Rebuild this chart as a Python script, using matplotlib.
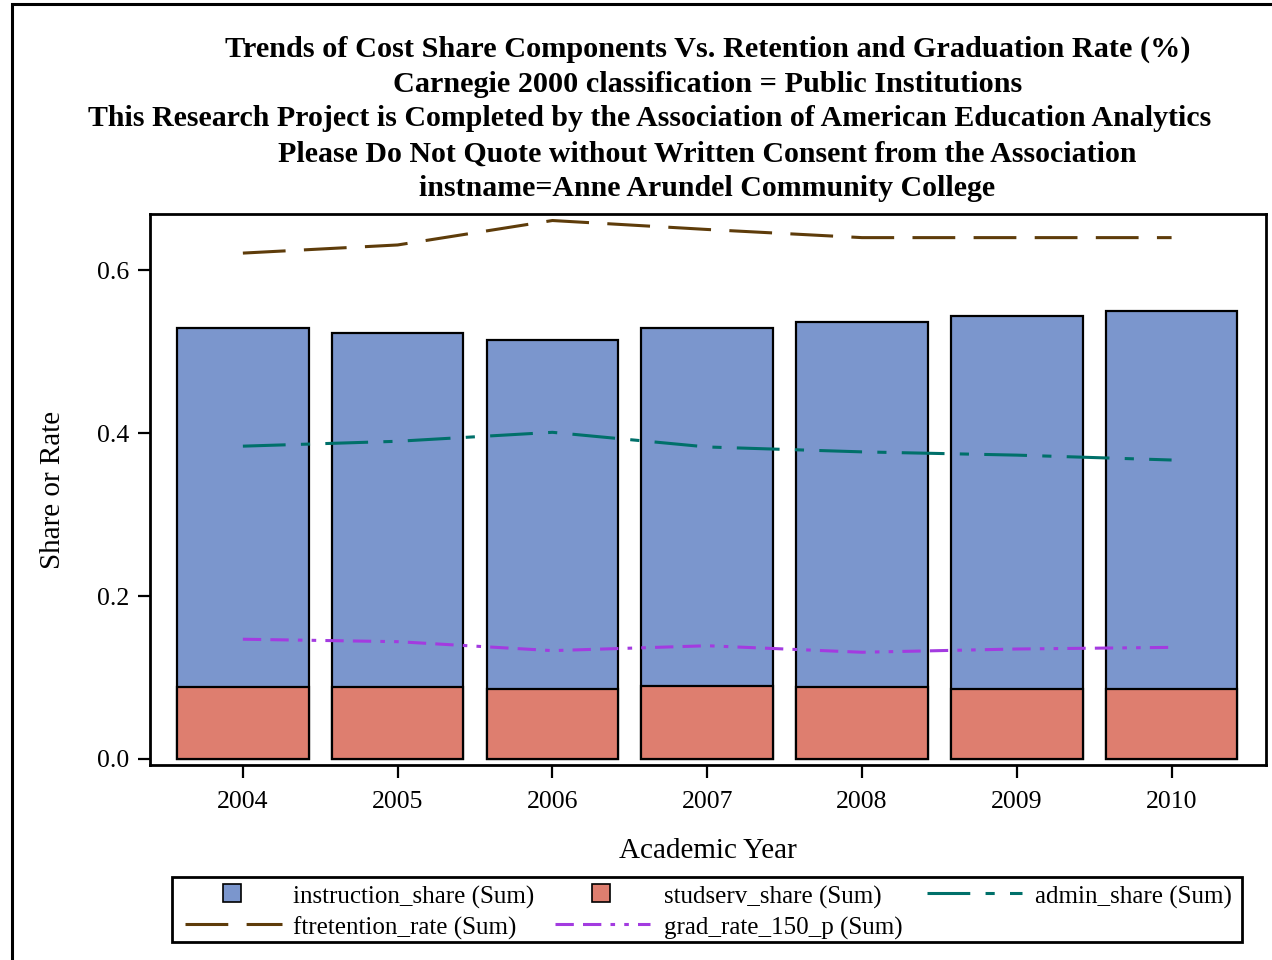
import matplotlib
matplotlib.use("Agg")
import matplotlib.pyplot as plt
from matplotlib.lines import Line2D
from matplotlib.patches import Rectangle

years = [2004, 2005, 2006, 2007, 2008, 2009, 2010]
instruction_share = [0.529, 0.523, 0.514, 0.529, 0.536, 0.544, 0.550]
studserv_share = [0.088, 0.088, 0.086, 0.090, 0.088, 0.086, 0.086]
admin_share = [0.384, 0.390, 0.401, 0.383, 0.377, 0.373, 0.367]
ftretention_rate = [0.621, 0.631, 0.661, 0.650, 0.640, 0.640, 0.640]
grad_rate_150_p = [0.147, 0.144, 0.133, 0.139, 0.131, 0.135, 0.137]

titles = [
    "Trends of Cost Share Components Vs. Retention and Graduation Rate (%)",
    "Carnegie 2000 classification = Public Institutions",
    "This Research Project is Completed by the Association of American Education Analytics",
    "Please Do Not Quote without Written Consent from the Association",
    "instname=Anne Arundel Community College",
]
title_x = [708, 708, 650, 707, 707]
title_y = [49, 85, 119, 154, 188]

legend_labels = ["instruction_share (Sum)", "studserv_share (Sum)",
                 "admin_share (Sum)", "ftretention_rate (Sum)",
                 "grad_rate_150_p (Sum)"]

c_instr = "#7B96CD"
c_stud = "#DE7E6F"
c_admin = "#00706A"
c_ftret = "#5E3C0A"
c_grad = "#A33BE0"

d_admin = (14, 5, 3, 5)
d_ftret = (14, 6)
d_grad = (6, 3, 6, 3, 1.5, 3, 1.5, 3)

plt.rcParams['font.family'] = ['Liberation Serif', 'DejaVu Serif']

W, H = 1272, 960
fig = plt.figure(figsize=(W / 100, H / 100), dpi=100)

def fx(p):
    return p / W

def fy(p):
    return 1 - p / H

# outer border
fig.patches.append(Rectangle((fx(12), -0.01), 1.1, fy(4) + 0.01,
                             transform=fig.transFigure, fill=False,
                             edgecolor="black", linewidth=2.2))

ax = fig.add_axes([fx(150), fy(765), fx(1266 - 150), (765 - 214) / H])
ax.set_xlim(2004 - 0.6, 2010 + 0.61)
ax.set_ylim(-0.0074, 0.669)

bw = 0.85
ax.bar(years, instruction_share, width=bw, color=c_instr, edgecolor="black",
       linewidth=1.6, zorder=2)
ax.bar(years, studserv_share, width=bw, color=c_stud, edgecolor="black",
       linewidth=1.6, zorder=3)

ax.plot(years, admin_share, color=c_admin, linewidth=2.2, dashes=d_admin, zorder=5)
ax.plot(years, ftretention_rate, color=c_ftret, linewidth=2.2, dashes=d_ftret, zorder=5)
ax.plot(years, grad_rate_150_p, color=c_grad, linewidth=2.2, dashes=d_grad, zorder=5)

ax.set_xticks(years)
ax.set_xticklabels([str(y) for y in years])
ax.set_yticks([0.0, 0.2, 0.4, 0.6])
ax.set_yticklabels(["0.0", "0.2", "0.4", "0.6"])
ax.tick_params(axis="both", labelsize=18.5, width=1.6, length=9, direction="out")
ax.tick_params(axis="x", pad=10)
ax.tick_params(axis="y", pad=6)
for s in ax.spines.values():
    s.set_linewidth(2.0)

ax.set_xlabel("Academic Year", fontsize=21, labelpad=18)
ax.set_ylabel("Share or Rate", fontsize=21, labelpad=22)

sizes = [21.8, 21.8, 21.5, 21.5, 21.5]
for t, x, y, s in zip(titles, title_x, title_y, sizes):
    fig.text(fx(x), fy(y), t, ha="center", va="center", fontsize=s,
             fontweight="bold")

# legend (manual layout)
fig.patches.append(Rectangle((fx(172), fy(942)), fx(1242 - 172), (942 - 877) / H,
                             transform=fig.transFigure, fill=False,
                             edgecolor="black", linewidth=2.0))
row_y = [895, 926]
col_h = [(185, 282), (555, 650), (927, 1022)]
col_t = [293, 664, 1035]
entries = [
    ("patch", c_instr, None, 0, 0),
    ("patch", c_stud, None, 0, 1),
    ("line", c_admin, d_admin, 0, 2),
    ("line", c_ftret, d_ftret, 1, 0),
    ("line", c_grad, d_grad, 1, 1),
]
for (kind, col, dsh, r, c), lab in zip(entries, legend_labels):
    y = fy(row_y[r])
    x0, x1 = col_h[c]
    if kind == "patch":
        fig.add_artist(Line2D([fx((x0 + x1) / 2 - 2)], [fy(row_y[r] - 2)],
                              linestyle="none", marker="s", markersize=13,
                              markerfacecolor=col, markeredgecolor="black",
                              markeredgewidth=1.2, transform=fig.transFigure))
    else:
        fig.add_artist(Line2D([fx(x0), fx(x1)], [fy(row_y[r] - 2)] * 2,
                              color=col, linewidth=2.2, dashes=dsh,
                              transform=fig.transFigure))
    fig.text(fx(col_t[c]), fy(row_y[r] + 2), lab, ha="left", va="center",
             fontsize=18)

fig.savefig("out.png", dpi=100)
